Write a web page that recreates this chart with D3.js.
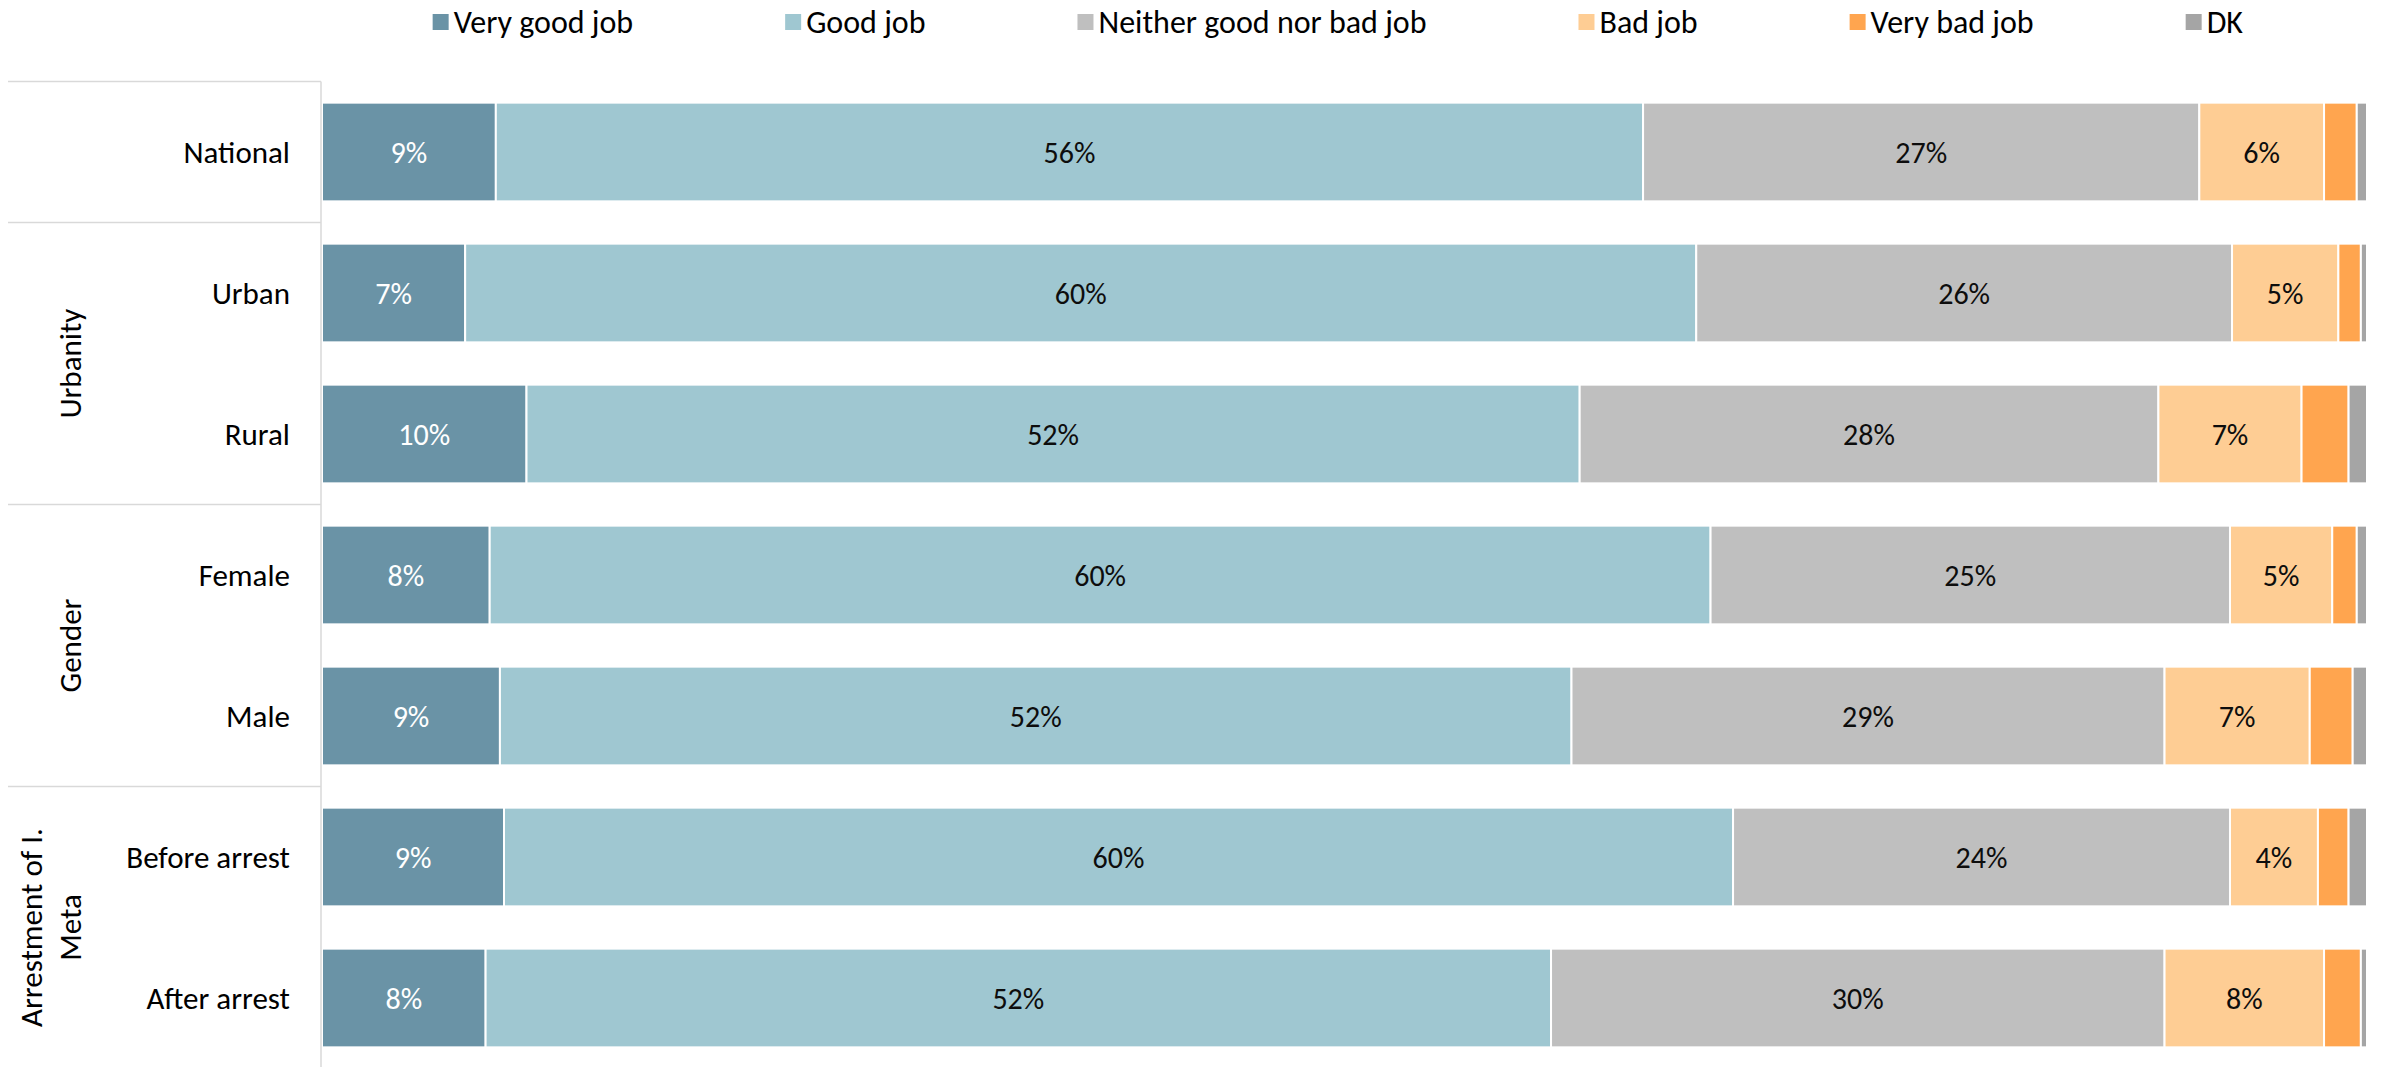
<!DOCTYPE html>
<html>
<head>
<meta charset="utf-8">
<script src="https://cdn.jsdelivr.net/npm/d3@7"></script>
<style>
  body { margin: 0; background: #fff; }
  text { font-family: Calibri, Carlito, Lato, sans-serif; }
</style>
</head>
<body>
<div id="chart"></div>
<script>
// rows of the chart, top to bottom
var categories = ["National", "Urban", "Rural", "Female", "Male", "Before arrest", "After arrest"];
// group each row belongs to ("" = no group)
var groupOf = ["", "Urbanity", "Urbanity", "Gender", "Gender", "Arrestment of I.|Meta", "Arrestment of I.|Meta"];

// series (percent of respondents)
var seriesNames = ["Very good job", "Good job", "Neither good nor bad job", "Bad job", "Very bad job", "DK"];
var veryGood = [8.5, 7.0, 10.0, 8.2, 8.7, 8.9, 8.0];
var good     = [56.1, 60.2, 51.5, 59.7, 52.4, 60.1, 52.1];
var neither  = [27.2, 26.2, 28.3, 25.4, 29.0, 24.3, 30.0];
var bad      = [6.1, 5.2, 7.0, 5.0, 7.1, 4.3, 7.8];
var veryBad  = [1.6, 1.1, 2.3, 1.2, 2.1, 1.5, 1.8];
var dk       = [0.5, 0.3, 0.9, 0.5, 0.7, 0.9, 0.3];

var colors = ["#6a93a6", "#9fc7d1", "#bfbfbf", "#fecd94", "#ffa54f", "#a5a5a5"];

// set the dimensions of the graph
var W = 2382, H = 1067;
var plot = {left: 322, right: 2367, top: 81.5, bottom: 1068.5};

var svg = d3.select("#chart")
  .append("svg")
    .attr("width", W)
    .attr("height", H);

// build the table for d3.stack
var allSeries = [veryGood, good, neither, bad, veryBad, dk];
var rows = categories.map(function(c, i) {
  var r = {cat: c};
  seriesNames.forEach(function(k, j) { r[k] = allSeries[j][i]; });
  return r;
});

var x = d3.scaleLinear()
  .domain([0, 100])
  .range([plot.left, plot.right]);

var y = d3.scaleBand()
  .domain(categories)
  .range([plot.top, plot.bottom])
  .paddingInner(0.3)
  .paddingOuter(0.15);

var color = d3.scaleOrdinal()
  .domain(seriesNames)
  .range(colors);

var stacked = d3.stack().keys(seriesNames)(rows);

// bars
var layers = svg.selectAll("g.layer")
  .data(stacked)
  .enter()
  .append("g")
    .attr("class", "layer")
    .attr("fill", function(d) { return color(d.key); });

layers.selectAll("rect")
  .data(function(d) { return d; })
  .enter()
  .append("rect")
    .attr("x", function(d) { return x(d[0]); })
    .attr("y", function(d) { return y(d.data.cat); })
    .attr("width", function(d) { return x(d[1]) - x(d[0]); })
    .attr("height", y.bandwidth())
    .attr("stroke", "#fff")
    .attr("stroke-width", 2);

// data labels (small segments are not labelled)
layers.each(function(layer, li) {
  d3.select(this).selectAll("text")
    .data(layer.filter(function(d) { return d[1] - d[0] >= 3; }))
    .enter()
    .append("text")
      .attr("x", function(d) { return (x(d[0]) + x(d[1])) / 2; })
      .attr("y", function(d) { return y(d.data.cat) + y.bandwidth() / 2; })
      .attr("dy", "0.35em")
      .attr("text-anchor", "middle")
      .attr("font-size", 30)
      .attr("fill", li === 0 ? "#fff" : "#0d0d0d")
      .text(function(d) { return Math.round(d[1] - d[0]) + "%"; });
});

// axis line and group separators
var lineColor = "#d9d9d9";
var half = y.step() * y.paddingInner() / 2;
svg.append("line")
  .attr("x1", plot.left - 1).attr("x2", plot.left - 1)
  .attr("y1", plot.top).attr("y2", H)
  .attr("stroke", lineColor).attr("stroke-width", 1.5);

var groupStarts = categories.filter(function(c, i) { return i === 0 || groupOf[i] !== groupOf[i - 1]; });
svg.selectAll("line.sep")
  .data(groupStarts)
  .enter()
  .append("line")
    .attr("class", "sep")
    .attr("x1", 8).attr("x2", plot.left - 1)
    .attr("y1", function(c) { return y(c) - half; })
    .attr("y2", function(c) { return y(c) - half; })
    .attr("stroke", lineColor).attr("stroke-width", 1.5);

// category labels
svg.selectAll("text.cat")
  .data(categories)
  .enter()
  .append("text")
    .attr("class", "cat")
    .attr("x", 290)
    .attr("y", function(c) { return y(c) + y.bandwidth() / 2; })
    .attr("dy", "0.35em")
    .attr("text-anchor", "end")
    .attr("font-size", 31)
    .attr("fill", "#000")
    .text(function(c) { return c; });

// group labels (rotated)
var groupNames = groupOf.filter(function(g, i) { return g !== "" && groupOf.indexOf(g) === i; });
groupNames.forEach(function(g) {
  var members = categories.filter(function(c, i) { return groupOf[i] === g; });
  var y0 = y(members[0]) - half;
  var y1 = y(members[members.length - 1]) + y.bandwidth() + half;
  var cy = (y0 + y1) / 2;
  var lines = g.split("|");
  var t = svg.append("text")
    .attr("transform", "translate(70," + cy + ") rotate(-90)")
    .attr("text-anchor", "middle")
    .attr("font-size", 31)
    .attr("fill", "#000");
  lines.forEach(function(l, k) {
    t.append("tspan")
      .attr("x", 0)
      .attr("y", (k - (lines.length - 1)) * 39)
      .attr("dy", "0.35em")
      .text(l);
  });
});

// legend
var legend = svg.append("g");
var items = legend.selectAll("g.item")
  .data(seriesNames)
  .enter()
  .append("g")
    .attr("class", "item");
items.append("rect")
  .attr("width", 16).attr("height", 16)
  .attr("y", 14)
  .attr("fill", function(d) { return color(d); });
items.append("text")
  .attr("x", 21)
  .attr("y", 22)
  .attr("dy", "0.35em")
  .attr("font-size", 32)
  .attr("fill", "#000")
  .text(function(d) { return d; });

var gap = 152;
var pos = 0;
items.each(function() {
  var w = this.getBBox().width;
  d3.select(this).attr("transform", "translate(" + pos + ",0)");
  pos += w + gap;
});
var legendWidth = pos - gap;
legend.attr("transform", "translate(" + (1338 - legendWidth / 2) + ",0)");
</script>
</body>
</html>
